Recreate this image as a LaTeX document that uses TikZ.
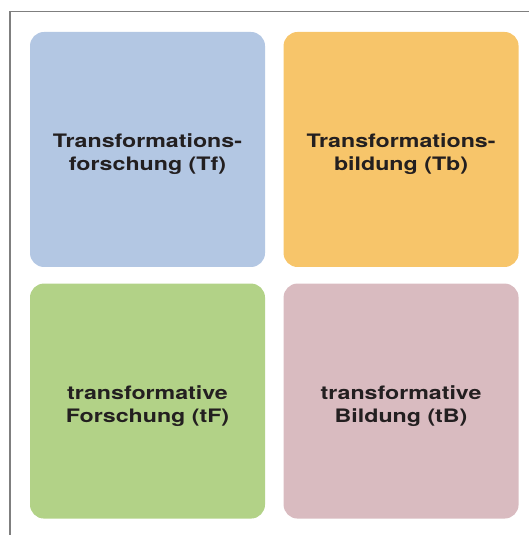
\documentclass[tikz,border=0pt]{standalone}
\usepackage{fontspec}
\newfontfamily\boxfont[FakeStretch=1.25]{TeX Gyre Heros}
\usepackage{xcolor}
\definecolor{textdark}{HTML}{231F20}
\definecolor{framegray}{HTML}{7F7F7F}
\definecolor{tfblue}{HTML}{B3C7E3}
\definecolor{tborange}{HTML}{F7C56A}
\definecolor{tfgreen}{HTML}{B2D287}
\definecolor{tbpink}{HTML}{D9BBC0}
\usepackage{tikz}
\usetikzlibrary{positioning}

\tikzset{
  quad/.style={rounded corners=0.35cm, minimum width=5.875cm, minimum height=5.875cm,
    inner sep=0pt},
  quadtext/.style={align=center, text=textdark, inner sep=0pt,
    font=\boxfont\bfseries\fontsize{13.2}{16.4}\selectfont}
}

\begin{document}
\begin{tikzpicture}
          \useasboundingbox (0,0) rectangle (13.225,13.375);
          \draw[framegray, line width=0.8pt] (0.25,0) -- (0.25,13.0875) -- (13.225,13.0875);

          \node[quad, fill=tfblue] (tf) at (3.6875,9.6375) {};
          \node[quad, fill=tborange, right=0.45cm of tf] (tb) {};
          \node[quad, fill=tfgreen, below=0.4cm of tf] (tF) {};
          \node[quad, fill=tbpink, right=0.45cm of tF] (tB) {};

          \node[quadtext] (tf-label) at ([yshift=-0.12cm]tf.center) {Transformations-\\forschung (Tf)};
          \node[quadtext] (tb-label) at ([yshift=-0.12cm]tb.center) {Transformations-\\bildung (Tb)};
          \node[quadtext] (tF-label) at ([yshift=-0.12cm]tF.center) {transformative\\Forschung (tF)};
          \node[quadtext] (tB-label) at ([yshift=-0.12cm]tB.center) {transformative\\Bildung (tB)};
        \end{tikzpicture}
\end{document}
